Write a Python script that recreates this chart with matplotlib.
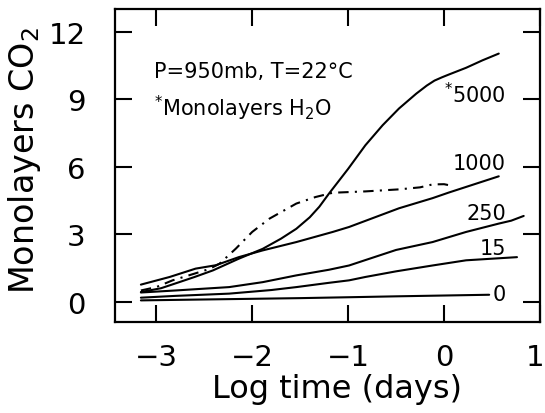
import matplotlib
matplotlib.use("Agg")
import matplotlib.pyplot as plt
from matplotlib.transforms import ScaledTranslation

plt.rcParams['font.family'] = ['DejaVu Sans']
plt.rcParams['mathtext.default'] = 'regular'

# ---- data ----
x_5000 = [-3.16, -2.95, -2.76, -2.6, -2.41, -2.14, -1.89, -1.7, -1.54, -1.4, -1.3, -1.2, -1.1,
          -1.0, -0.82, -0.64, -0.47, -0.29, -0.18, -0.1, -0.02, 0.05, 0.23, 0.4, 0.57]
y_5000 = [0.43, 0.6, 0.87, 1.1, 1.39, 1.91, 2.35, 2.8, 3.24, 3.75, 4.22, 4.8, 5.35,
          5.9, 6.95, 7.84, 8.58, 9.24, 9.6, 9.82, 9.97, 10.09, 10.39, 10.72, 11.02]

x_1000 = [-3.16, -2.86, -2.59, -2.38, -2.14, -1.89, -1.54, -1.16, -0.99, -0.47, -0.12, 0.05, 0.57]
y_1000 = [0.76, 1.1, 1.47, 1.62, 1.98, 2.28, 2.65, 3.1, 3.32, 4.15, 4.6, 4.85, 5.57]

x_250 = [-3.16, -2.8, -2.24, -1.89, -1.54, -1.2, -0.99, -0.82, -0.5, -0.12, 0.23, 0.57, 0.7, 0.83]
y_250 = [0.41, 0.5, 0.65, 0.87, 1.17, 1.42, 1.61, 1.85, 2.3, 2.65, 3.1, 3.47, 3.6, 3.81]

x_15 = [-3.16, -2.8, -2.24, -1.8, -1.54, -1.2, -0.99, -0.82, -0.5, -0.12, 0.23, 0.76]
y_15 = [0.18, 0.26, 0.36, 0.52, 0.65, 0.84, 0.95, 1.1, 1.35, 1.61, 1.84, 1.98]

x_0 = [-3.16, -2.5, -1.5, -0.99, -0.5, 0.47]
y_0 = [0.06, 0.1, 0.16, 0.2, 0.24, 0.31]

x_dd = [-3.16, -3.0, -2.83, -2.6, -2.45, -2.34, -2.17, -2.0, -1.82, -1.54, -1.34, -1.16,
        -0.82, -0.47, -0.25, -0.12, 0.0, 0.09]
y_dd = [0.5, 0.65, 0.95, 1.25, 1.45, 1.69, 2.36, 3.1, 3.69, 4.36, 4.65, 4.84,
        4.9, 4.99, 5.08, 5.21, 5.22, 5.14]

curve_labels = [r'$^{*}$5000', '1000', '250', '15', '0']
label_x = [0.645, 0.64, 0.645, 0.645, 0.645]
label_y = [8.87, 5.88, 3.69, 2.13, 0.09]

xticks = [-3, -2, -1, 0, 1]
xticklabels = ['\u22123', '\u22122', '\u22121', '0', '1']
yticks = [0, 3, 6, 9, 12]

# ---- figure ----
fig = plt.figure(figsize=(5.45, 4.14), dpi=100)
ax = fig.add_axes([115/545, 1-323/414, (540-115)/545, (323-10)/414])

lw = 1.5
for xs, ys in [(x_5000, y_5000), (x_1000, y_1000), (x_250, y_250), (x_15, y_15), (x_0, y_0)]:
    ax.plot(xs, ys, color='black', lw=lw, solid_capstyle='round', solid_joinstyle='round')
ax.plot(x_dd, y_dd, color='black', lw=lw, linestyle=(0, (5, 3, 1, 3)))

for t, lx, ly in zip(curve_labels, label_x, label_y):
    ax.text(lx, ly, t, ha='right', va='baseline', fontsize=15)

ax.text(-3.02, 9.98, 'P=950mb, T=22°C', ha='left', va='baseline', fontsize=15)
ax.text(-3.02, 8.28, r'$^{*}$Monolayers H$_2$O', ha='left', va='baseline', fontsize=15)

ax.set_xlim(-3.43, 1.0)
ax.set_ylim(-0.9, 13.0)
ax.set_xticks(xticks)
ax.set_yticks(yticks)
ax.set_xticklabels(xticklabels)
ax.tick_params(direction='in', length=12, width=1.5, top=True, right=True,
               labelsize=21)
ax.tick_params(axis='y', pad=21)
ax.tick_params(axis='x', pad=15)
for s in ax.spines.values():
    s.set_linewidth(1.6)

# keep the last x tick label inside the canvas
last = ax.get_xticklabels()[-1]
last.set_transform(last.get_transform() + ScaledTranslation(-5/100, 0, fig.dpi_scale_trans))

ax.set_xlabel('Log time (days)', fontsize=23)
ax.set_ylabel('Monolayers CO$_2$', fontsize=24)
ax.yaxis.set_label_coords(-0.17, 0.52)
ax.xaxis.set_label_coords(0.522, -0.163)

fig.savefig('out.png', dpi=100)
